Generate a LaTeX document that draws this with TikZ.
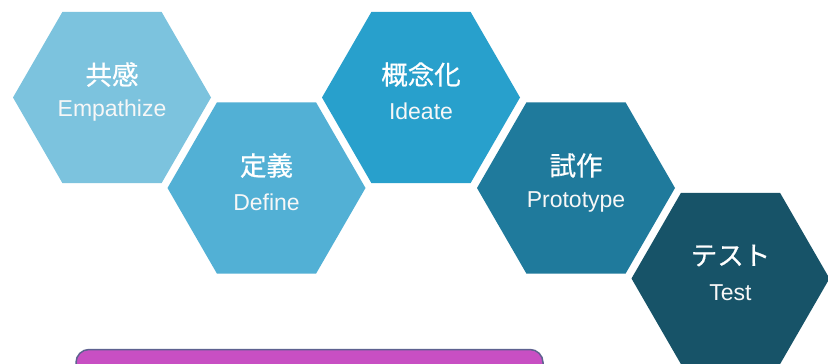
\documentclass[tikz,border=0pt]{standalone}
\usepackage{fontspec}
\setmainfont{Liberation Sans}
\newfontfamily\jpfont[FakeBold=0.6]{Noto Sans CJK JP}
\usetikzlibrary{shapes.geometric}
\definecolor{hexA}{HTML}{7CC3DE}
\definecolor{hexB}{HTML}{52B0D5}
\definecolor{hexC}{HTML}{28A0CC}
\definecolor{hexD}{HTML}{1F7A9C}
\definecolor{hexE}{HTML}{175368}
\definecolor{boxfill}{HTML}{C84FC3}
\definecolor{boxline}{HTML}{5E6290}
\tikzset{
  hexshape/.style={regular polygon, regular polygon sides=6, minimum size=198pt, inner sep=0pt, draw=none},
  jplabel/.style={text=white, font=\jpfont\fontsize{26.5}{30}\selectfont, inner sep=0pt},
  enlabel/.style={text=white!94!gray, font=\fontsize{23}{27}\selectfont, inner sep=0pt},
}
\begin{document}
\begin{tikzpicture}[x=1pt,y=-1pt]
\useasboundingbox (0,0) rectangle (828,364);
\clip (0,0) rectangle (828,364);
\fill[white] (0,0) rectangle (828,364);
\node[hexshape, fill=hexA] (h1) at (112,97.5) {};
\node[hexshape, fill=hexB] (h2) at (266.5,188) {};
\node[hexshape, fill=hexC] (h3) at (421,97.5) {};
\node[hexshape, fill=hexD] (h4) at (576,188) {};
\node[hexshape, fill=hexE] (h5) at (730.5,278.5) {};
\node[jplabel] (j1) at ([yshift=23pt]h1.center) {共感};
\node[enlabel] (e1) at ([yshift=-13.5pt]h1.center) {Empathize};
\node[jplabel] (j2) at ([yshift=22.5pt]h2.center) {定義};
\node[enlabel] (e2) at ([yshift=-14.5pt]h2.center) {Define};
\node[jplabel] (j3) at ([yshift=23pt]h3.center) {概念化};
\node[enlabel] (e3) at ([yshift=-13.5pt]h3.center) {Ideate};
\node[jplabel] (j4) at ([yshift=22.5pt]h4.center) {試作};
\node[enlabel] (e4) at ([yshift=-13.5pt]h4.center) {Prototype};
\node[jplabel] (j5) at ([yshift=23pt]h5.center) {テスト};
\node[enlabel] (e5) at ([yshift=-14.5pt]h5.center) {Test};
\draw[boxline, line width=1.5pt, fill=boxfill, rounded corners=13pt] (76,349.5) rectangle (543,400);
\end{tikzpicture}
\end{document}
